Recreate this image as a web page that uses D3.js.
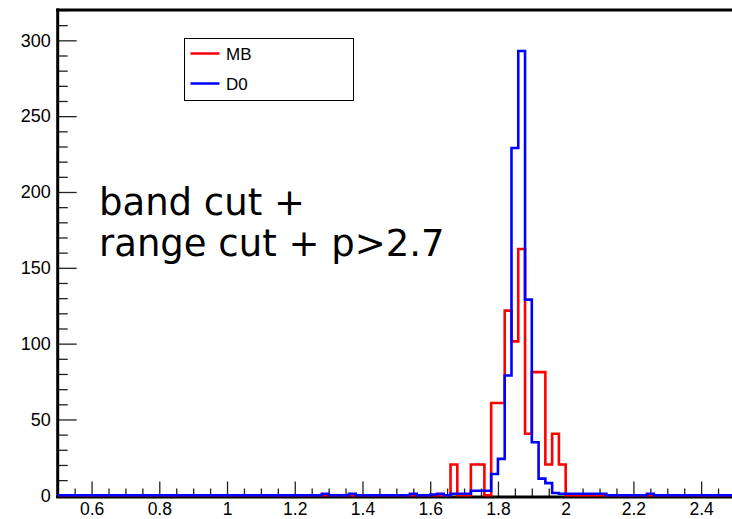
<!DOCTYPE html>
<html>
<head>
<meta charset="utf-8">
<script src="https://cdn.jsdelivr.net/npm/d3@7"></script>
<style>
  html, body { margin: 0; padding: 0; background: #fff; }
  svg { display: block; }
</style>
</head>
<body>
<div id="chart"></div>
<script>
// histogram binning: 100 bins of 0.02 from 0.5 to 2.5
const binStart = 0.5;
const binWidth = 0.02;

const mbCounts = [
  0, 0, 0, 0, 0, 0, 0, 0, 0, 0,
  0, 0, 0, 0, 0, 0, 0, 0, 0, 0,
  0, 0, 0, 0, 0, 0, 0, 0, 0, 0,
  0, 0, 0, 0, 0, 0, 0, 0, 0, 0,
  0, 0, 0, 0, 0, 0, 0, 0, 0, 0,
  0, 0, 0, 0, 0, 0, 0, 0, 20.3, 0,
  0, 20.3, 20.3, 0, 60.9, 60.9, 121.8, 101.5, 162.4, 40.6,
  81.2, 81.2, 20.3, 40.6, 20.3, 0, 0, 0, 0, 0,
  0, 0, 0, 0, 0, 0, 0, 0, 0, 0,
  0, 0, 0, 0, 0, 0, 0, 0, 0, 0
];

const d0Counts = [
  0, 0, 0, 0, 0, 0, 0, 0, 0, 0,
  0, 0, 0, 0, 0, 0, 0, 0, 0, 0,
  0, 0, 0, 0, 0, 0, 0, 0, 0, 0,
  0, 0, 0, 0, 0, 0, 0, 0, 0, 1,
  0, 0, 0, 1, 0, 0, 0, 0, 0, 0,
  0, 0, 1, 0, 0, 0.5, 1, 0, 1, 1,
  1, 3, 3, 3, 14, 24, 79, 229, 293, 129,
  35, 11, 8, 1.5, 1, 1, 1, 1, 1, 1,
  1, 0, 0, 0, 0, 0, 0, 1, 0, 0,
  0, 0, 0, 0, 0, 0, 0, 0, 0, 0
];

const xMajorTicks = [0.6, 0.8, 1.0, 1.2, 1.4, 1.6, 1.8, 2.0, 2.2, 2.4];
const yMajorTicks = [0, 50, 100, 150, 200, 250, 300];
const seriesNames = ["MB", "D0"];
const seriesColors = ["#ff0000", "#0000ff"];
const noteLines = ["band cut +", "range cut + p>2.7"];

const width = 732;
const height = 519;
const frame = { left: 57.7, top: 10, bottom: 496.5, right: 735 };

const svg = d3.select("#chart").append("svg")
  .attr("width", width)
  .attr("height", height)
  .style("font-family", "'Liberation Sans', Arial, sans-serif");

const x = d3.scaleLinear().domain([0.5, 2.5]).range([frame.left, frame.right]);
const y = d3.scaleLinear().domain([0, 320]).range([495.3, frame.top]);

// minor ticks
const xMinor = d3.range(0.55, 2.5, 0.05).filter(v => !xMajorTicks.some(m => Math.abs(m - v) < 1e-6));
const yMinor = d3.range(10, 321, 10).filter(v => v % 50 !== 0);

svg.append("g")
  .attr("class", "x-axis")
  .attr("transform", `translate(0,${frame.bottom})`)
  .call(d3.axisBottom(x).tickValues(xMajorTicks).tickSize(-15).tickPadding(6.5)
    .tickFormat(d => String(+d.toFixed(1))));
svg.append("g")
  .attr("transform", `translate(0,${frame.bottom})`)
  .call(d3.axisBottom(x).tickValues(xMinor).tickSize(-8).tickFormat(""));

svg.append("g")
  .attr("class", "y-axis")
  .attr("transform", `translate(${frame.left},0)`)
  .call(d3.axisLeft(y).tickValues(yMajorTicks).tickSize(-19).tickPadding(7));
svg.append("g")
  .attr("transform", `translate(${frame.left},0)`)
  .call(d3.axisLeft(y).tickValues(yMinor).tickSize(-10).tickFormat(""));

svg.selectAll(".domain").remove();
svg.selectAll(".tick line").attr("stroke", "#222").attr("stroke-width", 1.3);
svg.selectAll(".tick text")
  .attr("fill", "#000")
  .style("font-size", "18px");
svg.selectAll(".x-axis .tick text").style("font-size", "17.5px");

// frame
svg.append("line")
  .attr("x1", frame.left - 1.5).attr("x2", width + 5)
  .attr("y1", frame.top).attr("y2", frame.top)
  .attr("stroke", "#000").attr("stroke-width", 3);
svg.append("line")
  .attr("x1", frame.left).attr("x2", frame.left)
  .attr("y1", frame.top - 1.5).attr("y2", frame.bottom + 1.5)
  .attr("stroke", "#000").attr("stroke-width", 3);
svg.append("line")
  .attr("x1", frame.left - 1.5).attr("x2", width + 5)
  .attr("y1", frame.bottom + 0.5).attr("y2", frame.bottom + 0.5)
  .attr("stroke", "#000").attr("stroke-width", 3);

// histograms as step outlines
const stepLine = d3.line()
  .x(d => x(d.x))
  .y(d => y(d.v))
  .curve(d3.curveStepAfter);

function toSteps(counts) {
  const pts = counts.map((v, i) => ({ x: binStart + i * binWidth, v }));
  pts.push({ x: binStart + counts.length * binWidth, v: counts[counts.length - 1] });
  return pts;
}

[mbCounts, d0Counts].forEach((counts, i) => {
  svg.append("path")
    .datum(toSteps(counts))
    .attr("fill", "none")
    .attr("stroke", seriesColors[i])
    .attr("stroke-width", 2.6)
    .attr("stroke-linejoin", "miter")
    .attr("d", stepLine);
});

// legend
const legend = svg.append("g").attr("transform", "translate(184.5,38.5)");
legend.append("rect")
  .attr("width", 169).attr("height", 62)
  .attr("fill", "#fff").attr("stroke", "#000").attr("stroke-width", 1);
seriesNames.forEach((name, i) => {
  const g = legend.append("g").attr("transform", `translate(0,${15 + i * 30})`);
  g.append("line")
    .attr("x1", 6).attr("x2", 35)
    .attr("stroke", seriesColors[i]).attr("stroke-width", 2.5);
  g.append("text")
    .attr("x", 41.5).attr("y", 6)
    .style("font-size", "17px")
    .attr("fill", "#000")
    .text(name);
});

// annotation
const note = svg.append("text")
  .attr("x", 99)
  .attr("y", 215)
  .style("font-family", "'DejaVu Sans', Verdana, sans-serif")
  .style("font-size", "37px")
  .attr("fill", "#000");
noteLines.forEach((t, i) => {
  note.append("tspan").attr("x", 99).attr("y", 215 + i * 41).text(t);
});
</script>
</body>
</html>
